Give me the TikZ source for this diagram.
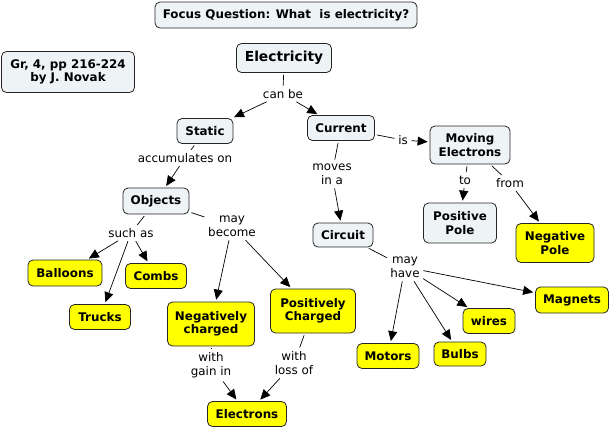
\documentclass[tikz,border=0pt]{standalone}
\usepackage{fontspec}
\setmainfont{DejaVu Sans}
\usetikzlibrary{arrows.meta}
\definecolor{lightc}{RGB}{238,243,246}
\definecolor{yel}{RGB}{255,255,0}
\tikzset{
  box/.style={draw=black!85, line width=0.8pt, rounded corners=5pt, align=center,
    font=\fontsize{11.9}{13.5}\selectfont\bfseries, inner sep=1pt},
  light/.style={box, fill=lightc},
  yellow/.style={box, fill=yel},
  lbl/.style={align=center, font=\fontsize{11.9}{14.5}\selectfont, inner sep=2.5pt},
  ln/.style={line width=0.7pt, shorten <=2pt, shorten >=1pt},
  arr/.style={line width=0.7pt, -{Triangle[length=10pt,width=9pt]}, shorten <=1pt, shorten >=2pt}
}
\begin{document}
\begin{tikzpicture}[x=1pt,y=-1pt]
\useasboundingbox[fill=white] (0,0) rectangle (612,429);
% concepts
\node[light, minimum width=262pt, minimum height=26pt] (focus) at (286,15) {Focus Question: What\ \ is electricity?};
\node[light, minimum width=133pt, minimum height=41pt] (gr) at (68,72) {Gr, 4, pp 216-224\\by J. Novak};
\node[light, minimum width=95pt, minimum height=29pt, font=\fontsize{13.8}{15}\selectfont\bfseries] (elec) at (284,58) {Electricity};
\node[light, minimum width=56pt, minimum height=25pt] (static) at (205,131) {Static};
\node[light, minimum width=67pt, minimum height=25pt] (current) at (341,128) {Current};
\node[light, minimum width=80pt, minimum height=38pt] (moving) at (470,145) {Moving\\Electrons};
\node[light, minimum width=73pt, minimum height=40pt] (pos) at (460,223) {Positive\\Pole};
\node[yellow, minimum width=78pt, minimum height=39pt] (neg) at (555,243) {Negative\\Pole};
\node[light, minimum width=60pt, minimum height=24pt] (circuit) at (343,235) {Circuit};
\node[light, minimum width=66pt, minimum height=26pt] (objects) at (156,201) {Objects};
\node[yellow, minimum width=74pt, minimum height=26pt] (balloons) at (65,273) {Balloons};
\node[yellow, minimum width=61pt, minimum height=25pt] (combs) at (156,276) {Combs};
\node[yellow, minimum width=61pt, minimum height=25pt] (trucks) at (100,317) {Trucks};
\node[yellow, minimum width=87pt, minimum height=44pt] (negch) at (211,324) {Negatively\\charged};
\node[yellow, minimum width=85pt, minimum height=44pt] (posch) at (313,311) {Positively\\Charged};
\node[yellow, minimum width=79pt, minimum height=25pt] (electrons) at (247,414) {Electrons};
\node[yellow, minimum width=73pt, minimum height=26pt] (magnets) at (572,300) {Magnets};
\node[yellow, minimum width=52pt, minimum height=25pt] (wires) at (489,321) {wires};
\node[yellow, minimum width=52pt, minimum height=24pt] (bulbs) at (460,354) {Bulbs};
\node[yellow, minimum width=62pt, minimum height=25pt] (motors) at (388,356) {Motors};
% link labels
\node[lbl] (canbe) at (283,94) {can be};
\node[lbl] (accum) at (185,158) {accumulates on};
\node[lbl] (is) at (403,140) {is};
\node[lbl] (moves) at (332,174) {moves\\in a};
\node[lbl] (to) at (465,180) {to};
\node[lbl] (from) at (510,183) {from};
\node[lbl] (mayhave) at (405,267) {may\\have};
\node[lbl] (suchas) at (131,233) {such as};
\node[lbl] (maybecome) at (232,226) {may\\become};
\node[lbl] (gain) at (211,365) {with\\gain in};
\node[lbl] (loss) at (294,363) {with\\loss of};
% links
\draw[ln] (elec) -- (canbe);
\draw[arr] (canbe) -- (static);
\draw[arr] (canbe) -- (current);
\draw[ln] (static) -- (accum);
\draw[arr] (accum) -- (objects);
\draw[ln] (current) -- (is);
\draw[arr] (is) -- (moving);
\draw[ln] (current) -- (moves);
\draw[arr] (moves) -- (circuit);
\draw[ln] (moving) -- (to);
\draw[arr] (to) -- (pos);
\draw[ln] (moving) -- (from);
\draw[arr] (from) -- (neg);
\draw[ln] (circuit) -- (mayhave);
\draw[arr] (mayhave) -- (magnets);
\draw[arr] (mayhave) -- (wires);
\draw[arr] (mayhave) -- (bulbs);
\draw[arr] (mayhave) -- (motors);
\draw[ln] (objects) -- (suchas);
\draw[arr] (suchas) -- (balloons);
\draw[arr] (suchas) -- (combs);
\draw[arr] (suchas) -- (trucks);
\draw[ln] (objects) -- (maybecome);
\draw[arr] (maybecome) -- (negch);
\draw[arr] (maybecome) -- (posch);
\draw[ln] (negch) -- (gain);
\draw[arr] (gain) -- (electrons);
\draw[ln] (posch) -- (loss);
\draw[arr] (loss) -- (electrons);
\end{tikzpicture}
\end{document}
